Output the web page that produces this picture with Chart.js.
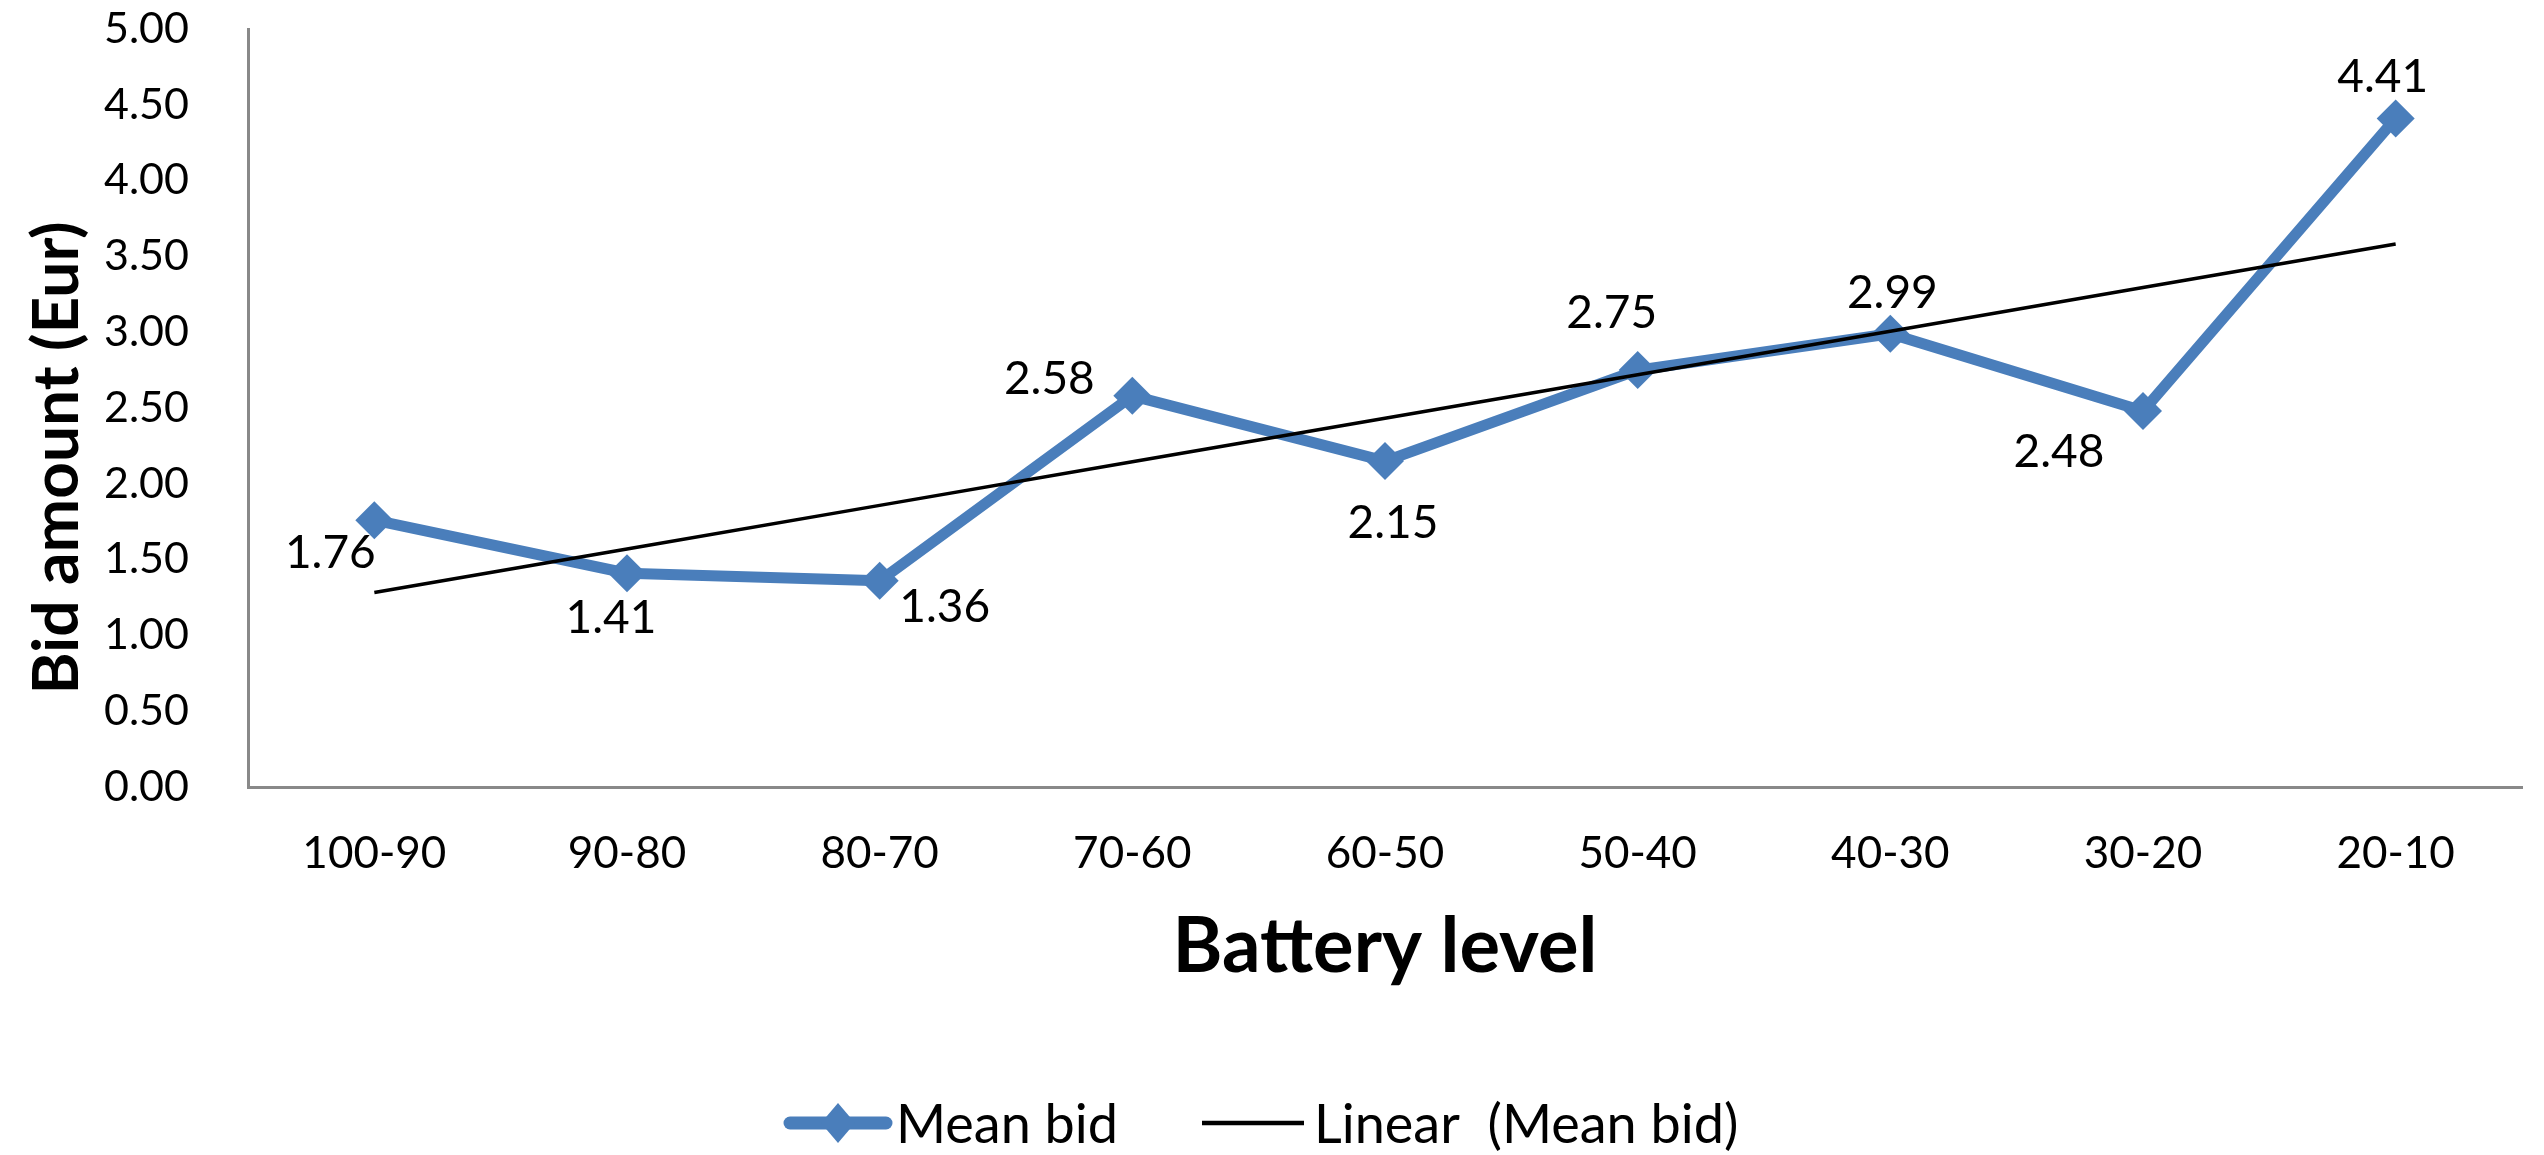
<!DOCTYPE html>
<html>
<head>
<meta charset="utf-8">
<script src="https://cdn.jsdelivr.net/npm/chart.js@4.4.1/dist/chart.umd.min.js"></script>
<style>
  html, body { margin: 0; padding: 0; background: #ffffff; }
  #wrap { width: 2544px; height: 1155px; }
</style>
</head>
<body>
<div id="wrap"><canvas id="c" width="2544" height="1155"></canvas></div>
<script>
// Battery level bands and the mean bid placed at each band
const categories = ['100-90', '90-80', '80-70', '70-60', '60-50', '50-40', '40-30', '30-20', '20-10'];
const meanBid = [1.76, 1.41, 1.36, 2.58, 2.15, 2.75, 2.99, 2.48, 4.41];
const yTicks = [0, 0.5, 1, 1.5, 2, 2.5, 3, 3.5, 4, 4.5, 5];
const seriesName = 'Mean bid';
const trendName = 'Linear  (Mean bid)';
const xTitle = 'Battery level';
const yTitle = 'Bid amount (Eur)';

// where each value label sits relative to its marker (px)
const labelOffsets = [[-44, 33], [-16, 45], [65, 26], [-83, -17], [8, 62], [-26, -57], [2, -41], [-84, 41], [-13, -41]];

// least-squares linear trend over the category index
function linearTrend(values) {
  const n = values.length;
  const xs = values.map((_, i) => i + 1);
  const mx = xs.reduce((a, b) => a + b, 0) / n;
  const my = values.reduce((a, b) => a + b, 0) / n;
  let sxy = 0, sxx = 0;
  xs.forEach((x, i) => { sxy += (x - mx) * (values[i] - my); sxx += (x - mx) * (x - mx); });
  const slope = sxy / sxx;
  const icept = my - slope * mx;
  return xs.map(x => icept + slope * x);
}
const trend = linearTrend(meanBid);

const FONT = 'Lato, "Open Sans", sans-serif';
const BLUE = '#4A7EBB';

const extras = {
  id: 'extras',
  afterDatasetsDraw(chart) {
    const ctx = chart.ctx;
    const meta = chart.getDatasetMeta(1);
    ctx.save();
    ctx.font = '46px ' + FONT;
    ctx.fillStyle = '#000';
    ctx.textAlign = 'center';
    ctx.textBaseline = 'middle';
    meta.data.forEach((pt, i) => {
      const off = labelOffsets[i];
      ctx.fillText(meanBid[i].toFixed(2), pt.x + off[0], pt.y + off[1]);
    });
    ctx.restore();
  },
  afterDraw(chart) {
    const ctx = chart.ctx;
    // y axis title
    ctx.save();
    ctx.translate(57, 458);
    ctx.rotate(-Math.PI / 2);
    ctx.font = 'bold 64px ' + FONT;
    ctx.fillStyle = '#000';
    ctx.textAlign = 'center';
    ctx.textBaseline = 'middle';
    ctx.fillText(yTitle, 0, 0);
    ctx.restore();

    // legend
    const ly = 1123;
    ctx.save();
    ctx.lineCap = 'round';
    ctx.strokeStyle = BLUE;
    ctx.lineWidth = 13;
    ctx.beginPath(); ctx.moveTo(790, ly); ctx.lineTo(886, ly); ctx.stroke();
    ctx.fillStyle = BLUE;
    ctx.beginPath();
    ctx.moveTo(838, ly - 20); ctx.lineTo(855, ly); ctx.lineTo(838, ly + 20); ctx.lineTo(821, ly);
    ctx.closePath(); ctx.fill();
    ctx.lineCap = 'butt';
    ctx.strokeStyle = '#000';
    ctx.lineWidth = 4.5;
    ctx.beginPath(); ctx.moveTo(1202, ly); ctx.lineTo(1304, ly); ctx.stroke();
    ctx.font = '54px ' + FONT;
    ctx.fillStyle = '#000';
    ctx.textAlign = 'left';
    ctx.textBaseline = 'middle';
    ctx.fillText(seriesName, 896, ly + 3);
    ctx.fillText(trendName, 1314, ly + 3);
    ctx.restore();
  }
};

new Chart(document.getElementById('c'), {
  type: 'line',
  data: {
    labels: categories,
    datasets: [
      {
        label: trendName,
        data: trend,
        borderColor: '#000000',
        borderWidth: 3.5,
        pointRadius: 0,
        fill: false,
        tension: 0,
        order: 0
      },
      {
        label: seriesName,
        data: meanBid,
        borderColor: BLUE,
        backgroundColor: BLUE,
        borderWidth: 11,
        borderJoinStyle: 'round',
        pointStyle: 'rectRot',
        pointRadius: 19,
        pointBorderWidth: 0,
        pointBackgroundColor: BLUE,
        fill: false,
        tension: 0,
        order: 1
      }
    ]
  },
  options: {
    responsive: false,
    devicePixelRatio: 1,
    animation: false,
    layout: { padding: { left: 19, right: 22, top: 29, bottom: 162 } },
    plugins: {
      legend: { display: false },
      tooltip: { enabled: false }
    },
    scales: {
      x: {
        type: 'category',
        offset: true,
        grid: { display: false },
        border: { display: true, color: '#898989', width: 3 },
        ticks: { color: '#000', font: { family: FONT, size: 44 }, padding: 32, maxRotation: 0 },
        title: { display: true, text: xTitle, color: '#000', font: { family: FONT, size: 76, weight: 'bold' }, padding: 0 },
        afterFit(scale) { scale.height = 206; }
      },
      y: {
        min: 0,
        max: 5,
        grid: { display: false },
        border: { display: true, color: '#898989', width: 3 },
        afterBuildTicks(scale) { scale.ticks = yTicks.map(v => ({ value: v })); },
        ticks: {
          color: '#000',
          font: { family: FONT, size: 43 },
          padding: 51,
          callback: v => Number(v).toFixed(2)
        },
        afterFit(scale) {
          scale.width = 229;
          // only the half-height of the end labels needs room above the plot
          scale.paddingTop = 26;
          scale.paddingBottom = 26;
        }
      }
    }
  },
  plugins: [extras]
});
</script>
</body>
</html>
